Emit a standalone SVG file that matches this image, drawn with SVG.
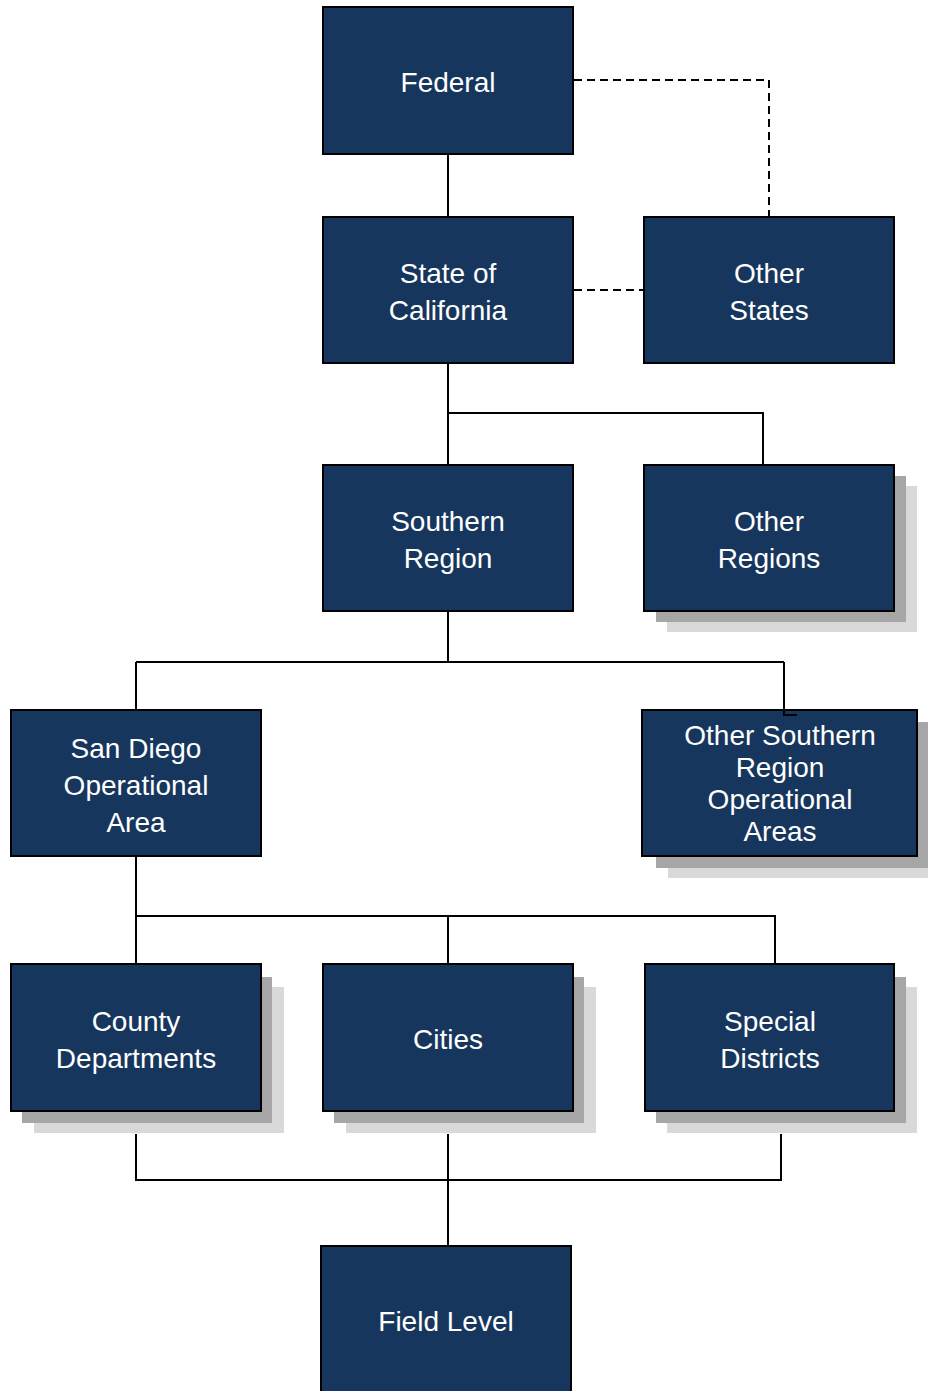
<svg xmlns="http://www.w3.org/2000/svg" width="928" height="1391" viewBox="0 0 928 1391">
<defs>
<style>
.box{fill:#17365d;stroke:#000;stroke-width:2}
.sh1{fill:#a6a6a6}
.sh2{fill:#d9d9d9}
.lbl{font-family:"Liberation Sans",Arial,sans-serif;font-size:28px;fill:#fff;text-anchor:middle}
.ln{fill:none;stroke:#000;stroke-width:2}
.dash{fill:none;stroke:#000;stroke-width:2;stroke-dasharray:8 5}
</style>
</defs>
<rect width="928" height="1391" fill="#fff"/>
<g id="federal">
<rect class="box" x="323" y="7" width="250" height="147"/>
<text class="lbl" x="448" y="92">Federal</text>
</g>
<g id="state-of-california">
<rect class="box" x="323" y="217" width="250" height="146"/>
<text class="lbl" x="448" y="283">State of</text>
<text class="lbl" x="448" y="320">California</text>
</g>
<g id="other-states">
<rect class="box" x="644" y="217" width="250" height="146"/>
<text class="lbl" x="769" y="283">Other</text>
<text class="lbl" x="769" y="320">States</text>
</g>
<g id="southern-region">
<rect class="box" x="323" y="465" width="250" height="146"/>
<text class="lbl" x="448" y="531">Southern</text>
<text class="lbl" x="448" y="568">Region</text>
</g>
<g id="other-regions">
<rect class="sh2" x="667" y="486" width="250" height="146"/>
<rect class="sh1" x="656" y="476" width="250" height="146"/>
<rect class="box" x="644" y="465" width="250" height="146"/>
<text class="lbl" x="769" y="531">Other</text>
<text class="lbl" x="769" y="568">Regions</text>
</g>
<g id="san-diego-operational-area">
<rect class="box" x="11" y="710" width="250" height="146"/>
<text class="lbl" x="136" y="758">San Diego</text>
<text class="lbl" x="136" y="795">Operational</text>
<text class="lbl" x="136" y="832">Area</text>
</g>
<g id="other-southern-region-operational-areas">
<rect class="sh2" x="668" y="732" width="275" height="146"/>
<rect class="sh1" x="656" y="722" width="275" height="146"/>
<rect class="box" x="642" y="710" width="275" height="146"/>
<text class="lbl" x="780" y="745">Other Southern</text>
<text class="lbl" x="780" y="777">Region</text>
<text class="lbl" x="780" y="809">Operational</text>
<text class="lbl" x="780" y="841">Areas</text>
</g>
<g id="county-departments">
<rect class="sh2" x="34" y="987" width="250" height="146"/>
<rect class="sh1" x="22" y="977" width="250" height="146"/>
<rect class="box" x="11" y="964" width="250" height="147"/>
<text class="lbl" x="136" y="1031">County</text>
<text class="lbl" x="136" y="1068">Departments</text>
</g>
<g id="cities">
<rect class="sh2" x="346" y="987" width="250" height="146"/>
<rect class="sh1" x="334" y="977" width="250" height="146"/>
<rect class="box" x="323" y="964" width="250" height="147"/>
<text class="lbl" x="448" y="1049">Cities</text>
</g>
<g id="special-districts">
<rect class="sh2" x="667" y="987" width="250" height="146"/>
<rect class="sh1" x="656" y="977" width="250" height="146"/>
<rect class="box" x="645" y="964" width="249" height="147"/>
<text class="lbl" x="770" y="1031">Special</text>
<text class="lbl" x="770" y="1068">Districts</text>
</g>
<g id="field-level">
<rect class="box" x="321" y="1246" width="250" height="160"/>
<text class="lbl" x="446" y="1331">Field Level</text>
</g>
<g id="connectors">
<path class="ln" d="M448 155V216"/>
<path class="dash" d="M574 80H769V216"/>
<path class="dash" d="M574 290H643"/>
<path class="ln" d="M448 364V464M448 413H763V464"/>
<path class="ln" d="M448 612V662M136 662H784M136 662V709M784 662V715H797"/>
<path class="ln" d="M136 857V963M136 916H775V963M448 916V963"/>
<path class="ln" d="M136 1134V1180H781V1134M448 1134V1245"/>
</g>
</svg>
